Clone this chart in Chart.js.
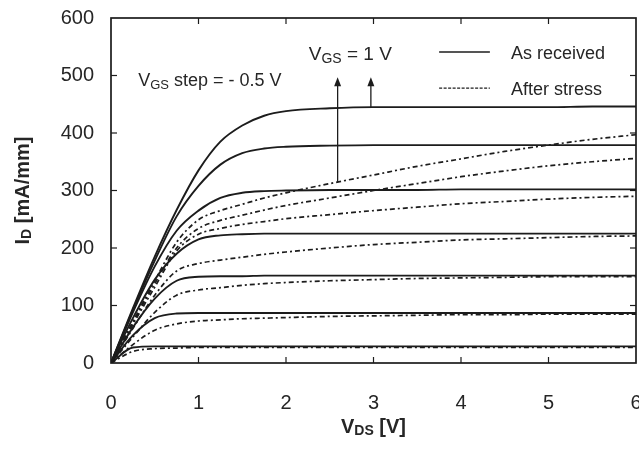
<!DOCTYPE html>
<html>
<head>
<meta charset="utf-8">
<script src="https://cdn.jsdelivr.net/npm/chart.js@4/dist/chart.umd.min.js"></script>
<style>
  html, body { margin: 0; padding: 0; background: #fff; }
  #wrap { width: 639px; height: 455px; }
</style>
</head>
<body>
<div id="wrap"><canvas id="c" width="639" height="455"></canvas></div>
<script>
// ---- data ----
const VDS = [0, 0.25, 0.5, 0.75, 1, 1.25, 1.5, 1.75, 2, 2.5, 3, 3.5, 4, 4.5, 5, 5.5, 6];

// As received, VGS = 1 V ... -2 V (step -0.5 V)
const recv_p1_0 = [0, 95, 185, 266, 335, 385, 413, 430, 438, 443, 445, 445, 445, 445, 445, 446, 446];
const recv_p0_5 = [0, 92, 178, 255, 308, 345, 365, 373, 376, 378, 379, 379, 379, 379, 379, 379, 379];
const recv_0_0  = [0, 88, 168, 230, 265, 287, 296, 299, 300, 301, 301, 301, 302, 302, 302, 302, 302];
const recv_m0_5 = [0, 78, 145, 190, 215, 222, 224, 225, 225, 225, 225, 225, 225, 225, 225, 225, 225];
const recv_m1_0 = [0, 62, 112, 143, 150, 151, 151, 152, 152, 152, 152, 152, 152, 152, 152, 152, 152];
const recv_m1_5 = [0, 48, 78, 86, 87, 87, 87, 87, 87, 87, 87, 87, 87, 87, 87, 87, 87];
const recv_m2_0 = [0, 27, 29, 29, 29, 29, 29, 29, 29, 29, 29, 29, 29, 29, 29, 29, 29];

// After stress
const strs_p1_0 = [0, 72, 143, 210, 249, 265, 276, 287, 296, 312, 327, 342, 355, 368, 379, 389, 397];
const strs_p0_5 = [0, 70, 138, 200, 234, 248, 257, 266, 274, 287, 300, 312, 324, 334, 343, 350, 356];
const strs_0_0  = [0, 67, 132, 195, 224, 234, 241, 246, 251, 258, 265, 271, 277, 281, 285, 288, 290];
const strs_m0_5 = [0, 60, 118, 160, 173, 179, 184, 189, 193, 200, 206, 210, 214, 216, 218, 220, 221];
const strs_m1_0 = [0, 45, 88, 118, 127, 131, 135, 138, 140, 143, 145, 147, 148, 149, 150, 150, 150];
const strs_m1_5 = [0, 32, 57, 68, 73, 75, 77, 78, 79, 81, 82, 83, 84, 84, 85, 85, 85];
const strs_m2_0 = [0, 20, 25, 26, 27, 27, 27, 27, 27, 27, 27, 27, 27, 27, 27, 27, 27];

const X_TICKS = [0, 1, 2, 3, 4, 5, 6];
const Y_TICKS = [0, 100, 200, 300, 400, 500, 600];

const receivedSeries = [recv_p1_0, recv_p0_5, recv_0_0, recv_m0_5, recv_m1_0, recv_m1_5, recv_m2_0];
const stressSeries   = [strs_p1_0, strs_p0_5, strs_0_0, strs_m0_5, strs_m1_0, strs_m1_5, strs_m2_0];

const toPts = arr => arr.map((v, i) => ({ x: VDS[i], y: v }));
const INK = '#1c1c1c';
const TXT = '#262626';
const FONT = '"Liberation Sans", Arial, Helvetica, sans-serif';

const datasets = [];
stressSeries.forEach(s => datasets.push({
  data: toPts(s), borderColor: INK, borderWidth: 1.7, borderDash: [5, 3, 2, 3],
  pointRadius: 0, cubicInterpolationMode: 'monotone', fill: false
}));
receivedSeries.forEach(s => datasets.push({
  data: toPts(s), borderColor: INK, borderWidth: 1.9,
  pointRadius: 0, cubicInterpolationMode: 'monotone', fill: false
}));

function drawParts(ctx, x, y, parts, align) {
  // parts: [text, size, bold, dy]
  let total = 0;
  parts.forEach(p => { ctx.font = (p[2] ? 'bold ' : '') + p[1] + 'px ' + FONT; total += ctx.measureText(p[0]).width; });
  let cx = align === 'center' ? x - total / 2 : x;
  parts.forEach(p => {
    ctx.font = (p[2] ? 'bold ' : '') + p[1] + 'px ' + FONT;
    ctx.fillText(p[0], cx, y + (p[3] || 0));
    cx += ctx.measureText(p[0]).width;
  });
}

const decor = {
  id: 'decor',
  afterDraw(chart) {
    const { ctx, chartArea: a, scales: { x, y } } = chart;
    ctx.save();
    // frame
    ctx.strokeStyle = INK; ctx.lineWidth = 1.7;
    ctx.strokeRect(a.left, a.top, a.right - a.left, a.bottom - a.top);
    // inward ticks
    ctx.lineWidth = 1.2;
    const TL = 6;
    X_TICKS.slice(1, -1).forEach(v => {
      const px = x.getPixelForValue(v);
      ctx.beginPath(); ctx.moveTo(px, a.bottom); ctx.lineTo(px, a.bottom - TL); ctx.stroke();
      ctx.beginPath(); ctx.moveTo(px, a.top); ctx.lineTo(px, a.top + TL); ctx.stroke();
    });
    Y_TICKS.slice(1, -1).forEach(v => {
      const py = y.getPixelForValue(v);
      ctx.beginPath(); ctx.moveTo(a.left, py); ctx.lineTo(a.left + TL, py); ctx.stroke();
      ctx.beginPath(); ctx.moveTo(a.right, py); ctx.lineTo(a.right - TL, py); ctx.stroke();
    });

    ctx.fillStyle = TXT;
    ctx.textBaseline = 'alphabetic';
    ctx.textAlign = 'left';
    // axis titles
    drawParts(ctx, (a.left + a.right) / 2, 433, [['V', 20, true], ['DS', 14, true, 2], [' [V]', 20, true]], 'center');
    ctx.save();
    ctx.translate(29, (a.top + a.bottom) / 2);
    ctx.rotate(-Math.PI / 2);
    drawParts(ctx, 0, 0, [['I', 20, true], ['D', 14, true, 2], [' [mA/mm]', 20, true]], 'center');
    ctx.restore();

    // annotations
    drawParts(ctx, x.getPixelForValue(0.31), y.getPixelForValue(482), [['V', 18], ['GS', 13, false, 3], [' step = - 0.5 V', 18]], 'left');
    drawParts(ctx, x.getPixelForValue(2.26), y.getPixelForValue(527), [['V', 19], ['GS', 14, false, 3], [' = 1 V', 19]], 'left');

    // arrows
    ctx.strokeStyle = INK; ctx.fillStyle = INK; ctx.lineWidth = 1.3;
    const arrow = (xv, y0, y1) => {
      const px = x.getPixelForValue(xv), pa = y.getPixelForValue(y0), pb = y.getPixelForValue(y1);
      ctx.beginPath(); ctx.moveTo(px, pa); ctx.lineTo(px, pb + 6); ctx.stroke();
      ctx.beginPath(); ctx.moveTo(px, pb); ctx.lineTo(px - 3.5, pb + 9); ctx.lineTo(px + 3.5, pb + 9); ctx.closePath(); ctx.fill();
    };
    arrow(2.59, 315, 497);
    arrow(2.97, 445, 497);

    // legend
    const lx0 = x.getPixelForValue(3.75), lx1 = x.getPixelForValue(4.33), tx = x.getPixelForValue(4.57);
    const ly1 = y.getPixelForValue(541), ly2 = y.getPixelForValue(478);
    ctx.lineWidth = 1.4;
    ctx.beginPath(); ctx.moveTo(lx0, ly1); ctx.lineTo(lx1, ly1); ctx.stroke();
    ctx.setLineDash([3, 1.5]);
    ctx.beginPath(); ctx.moveTo(lx0, ly2); ctx.lineTo(lx1, ly2); ctx.stroke();
    ctx.setLineDash([]);
    ctx.fillStyle = TXT;
    ctx.font = '18px ' + FONT;
    ctx.textBaseline = 'middle';
    ctx.fillText('As received', tx, ly1 + 2);
    ctx.fillText('After stress', tx, ly2 + 2);
    ctx.restore();
  }
};

new Chart(document.getElementById('c'), {
  type: 'line',
  data: { datasets },
  options: {
    responsive: false,
    animation: false,
    layout: { padding: { top: 18, right: 3, left: 0, bottom: 0 } },
    plugins: { legend: { display: false }, tooltip: { enabled: false } },
    scales: {
      x: {
        type: 'linear', min: 0, max: 6,
        afterBuildTicks: s => { s.ticks = X_TICKS.map(v => ({ value: v })); },
        ticks: { color: TXT, font: { size: 20, family: FONT }, padding: 28, maxRotation: 0 },
        grid: { display: false, drawTicks: false },
        border: { display: false },
        afterFit: s => { s.height = 92; s.paddingLeft = 0; s.paddingRight = 0; }
      },
      y: {
        type: 'linear', min: 0, max: 600,
        afterBuildTicks: s => { s.ticks = Y_TICKS.map(v => ({ value: v })); },
        ticks: { color: TXT, font: { size: 20, family: FONT }, padding: 17 },
        grid: { display: false, drawTicks: false },
        border: { display: false },
        afterFit: s => { s.width = 111; s.paddingTop = 0; s.paddingBottom = 0; }
      }
    }
  },
  plugins: [decor]
});
</script>
</body>
</html>
